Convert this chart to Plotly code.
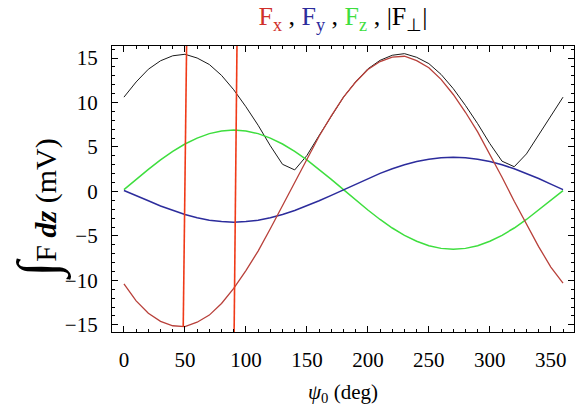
import plotly.graph_objects as go

psi = [0, 10, 20, 30, 40, 50, 60, 70, 80, 90, 100, 110, 120, 130, 140, 150, 160, 170, 180,
       190, 200, 210, 220, 230, 240, 250, 260, 270, 280, 290, 300, 310, 320, 330, 340, 350, 360]

Fx = [-10.4, -12.3, -13.7, -14.6, -15.1, -15.2, -14.7, -13.9, -12.6, -10.9, -8.9, -6.7, -4.2,
      -1.6, 1.1, 3.7, 6.2, 8.5, 10.6, 12.3, 13.7, 14.6, 15.1, 15.2, 14.7, 13.9, 12.6, 10.9,
      8.9, 6.7, 4.2, 1.6, -1.1, -3.7, -6.2, -8.5, -10.3]

Fy = [0.1, -0.44, -1.05, -1.63, -2.15, -2.6, -2.96, -3.23, -3.39, -3.45, -3.39, -3.23, -2.96,
      -2.6, -2.15, -1.63, -1.05, -0.44, 0.2, 0.83, 1.45, 2.03, 2.55, 3.0, 3.36, 3.63, 3.79,
      3.85, 3.79, 3.63, 3.36, 3.0, 2.55, 2.03, 1.45, 0.83, 0.2]

Fz = [0.2, 1.36, 2.49, 3.55, 4.51, 5.33, 6.0, 6.5, 6.8, 6.9, 6.8, 6.5, 6.0, 5.33, 4.51, 3.55,
      2.49, 1.36, 0.2, -0.96, -2.09, -3.15, -4.11, -4.93, -5.6, -6.1, -6.4, -6.5, -6.4, -6.1,
      -5.6, -4.93, -4.11, -3.15, -2.09, -0.96, 0.1]

Fperp = [10.6, 12.31, 13.74, 14.69, 15.25, 15.42, 15.0, 14.27, 13.05, 11.43, 9.52, 7.44, 5.14,
         3.05, 2.42, 4.04, 6.29, 8.51, 10.6, 12.33, 13.78, 14.74, 15.31, 15.49, 15.08, 14.37,
         13.16, 11.56, 9.67, 7.62, 5.38, 3.4, 2.78, 4.22, 6.37, 8.54, 10.6]

# vertical red jump segments
spike_x = [48.6, 51.4, None, 90.3, 92.7]
spike_y = [-15.2, 16.8, None, -16.2, 16.8]

x_ticks = [0, 50, 100, 150, 200, 250, 300, 350]
y_ticks = [-15, -10, -5, 0, 5, 10, 15]
y_tick_text = ["\u221215", "\u221210", "\u22125", "0", "5", "10", "15"]

SERIF = "Liberation Serif, Times New Roman, serif"

fig = go.Figure()
fig.add_trace(go.Scatter(x=psi, y=Fperp, mode="lines", line=dict(color="#1a1a1a", width=1.0)))
fig.add_trace(go.Scatter(x=psi, y=Fz, mode="lines", line=dict(color="#3ede3e", width=1.5)))
fig.add_trace(go.Scatter(x=psi, y=Fy, mode="lines", line=dict(color="#2c2c9c", width=1.5)))
fig.add_trace(go.Scatter(x=psi, y=Fx, mode="lines", line=dict(color="#b8403a", width=1.3)))
fig.add_trace(go.Scatter(x=spike_x, y=spike_y, mode="lines", connectgaps=False,
                         line=dict(color="#f03a18", width=1.6)))

axis_common = dict(
    showline=True, linecolor="black", linewidth=1.2, mirror="ticks",
    ticks="inside", ticklen=6, tickwidth=1.2, tickcolor="black",
    showgrid=False, zeroline=False, automargin=False,
    tickfont=dict(family=SERIF, size=21, color="black"),
    ticklabelstandoff=9,
)

fig.update_xaxes(range=[-9.8, 369], tickvals=x_ticks, ticktext=[str(v) for v in x_ticks],
                 minor=dict(dtick=10, ticks="inside", ticklen=3, tickcolor="black", showgrid=False),
                 **axis_common)
fig.update_yaxes(range=[-15.8, 16.35], tickvals=y_ticks, ticktext=y_tick_text,
                 minor=dict(dtick=1, ticks="inside", ticklen=3, tickcolor="black", showgrid=False),
                 **axis_common)

title_text = ("<span style='color:#d0302a'>F<sub>x</sub></span> , "
              "<span style='color:#2c2c9c'>F<sub>y</sub></span> , "
              "<span style='color:#3ede3e'>F<sub>z</sub></span> , "
              "|F<sub>\u22a5</sub>|")

fig.update_layout(
    width=577, height=411,
    margin=dict(l=112, r=3, t=46, b=79, autoexpand=False),
    paper_bgcolor="white", plot_bgcolor="white",
    showlegend=False,
    title=dict(text=title_text, x=0.5, xref="paper", y=1 - 16 / 411, yref="container",
               xanchor="center", yanchor="middle",
               font=dict(family=SERIF, size=26, color="black")),
)

fig.add_annotation(
    text="<span style='font-size:56px'>\u222b</span>F <b><i>dz</i></b> (mV)",
    x=-0.158, y=0.43, xref="paper", yref="paper", textangle=-90,
    showarrow=False, xanchor="center", yanchor="middle",
    font=dict(family=SERIF, size=30, color="black"),
)
fig.add_annotation(
    text="<i>\u03c8</i><sub>0</sub> (deg)",
    x=0.5, y=-0.213, xref="paper", yref="paper",
    showarrow=False, xanchor="center", yanchor="middle",
    font=dict(family=SERIF, size=21, color="black"),
)

fig.write_html("out.html", config={"displayModeBar": False},
               post_script="document.body.style.margin='0';")
